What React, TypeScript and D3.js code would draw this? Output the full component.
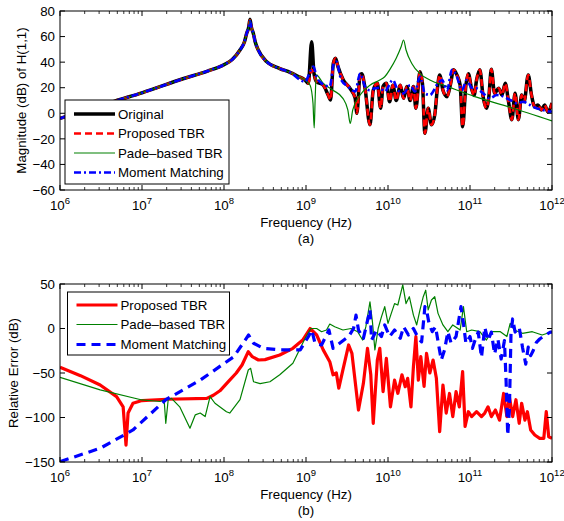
import React from 'react';
import * as d3 from 'd3';

// ---------- Plot (a): magnitude of H(1,1) ----------
const origExp = [6, 6.5, 6.67, 7, 7.5, 7.8, 8, 8.1, 8.195, 8.25, 8.277, 8.3, 8.317, 8.335, 8.357, 8.38, 8.418, 8.52, 8.68, 8.805, 8.9, 8.988, 9.028, 9.069, 9.098, 9.13, 9.21, 9.27, 9.3, 9.333, 9.36, 9.39, 9.455, 9.537, 9.6, 9.62, 9.66, 9.68, 9.72, 9.78, 9.82, 9.87, 9.91, 9.94, 9.98, 10.02, 10.06, 10.1, 10.15, 10.19, 10.23, 10.27, 10.31, 10.34, 10.39, 10.42, 10.45, 10.49, 10.53, 10.57, 10.6, 10.63, 10.67, 10.72, 10.76, 10.8, 10.84, 10.88, 10.91, 10.95, 10.98, 11.02, 11.05, 11.08, 11.12, 11.16, 11.2, 11.23, 11.26, 11.3, 11.35, 11.39, 11.43, 11.47, 11.51, 11.55, 11.59, 11.63, 11.66, 11.71, 11.75, 11.79, 11.83, 11.87, 11.91, 11.95, 12];
const origMag = [-4, 6, 9.5, 16, 27, 33, 38, 42, 49.5, 56, 62.6, 67, 73.5, 67, 62.6, 56, 49.5, 40.4, 35, 32, 29, 26, 23.4, 56, 31, 24.7, 22, 14.3, 10.4, 39, 43, 36.5, 26, 19.5, 11.7, 0, 30, 31, 19.5, -9, 18, 23.4, 4, 21, 23.4, 9, 22, 10, 22, 11.7, 21, 10, 21, 4, 32.5, 23.4, -15.7, 4, -9, -1.3, 18, 30, 18, 13, 22, 34, 30, 22, -10.5, 22, 31, 19, 14, 26, 34, 13, 4, 13, 34.4, 15.6, 19.5, 14.3, 23.4, 9, -5, 15.6, -5, 14.3, 9, 30, 14.3, 5, 6.5, 2.6, 6.5, 1.2, 8];

const propExp = [6, 6.5, 6.67, 7, 7.5, 7.8, 8, 8.1, 8.195, 8.25, 8.277, 8.3, 8.317, 8.335, 8.357, 8.38, 8.418, 8.52, 8.68, 8.805, 8.9, 8.988, 9.028, 9.069, 9.098, 9.13, 9.21, 9.27, 9.3, 9.333, 9.36, 9.39, 9.455, 9.537, 9.6, 9.62, 9.66, 9.68, 9.72, 9.78, 9.82, 9.87, 9.91, 9.94, 9.98, 10.02, 10.06, 10.1, 10.15, 10.19, 10.23, 10.27, 10.31, 10.34, 10.39, 10.42, 10.45, 10.49, 10.53, 10.57, 10.6, 10.63, 10.67, 10.72, 10.76, 10.8, 10.84, 10.88, 10.91, 10.95, 10.98, 11.02, 11.05, 11.08, 11.12, 11.16, 11.2, 11.23, 11.26, 11.3, 11.35, 11.39, 11.43, 11.47, 11.51, 11.55, 11.59, 11.63, 11.66, 11.71, 11.75, 11.79, 11.83, 11.87, 11.91, 11.95, 12];
const propMag = [-4, 6, 9.5, 16, 27, 33, 38, 42, 49.5, 56, 62.6, 67, 73, 67, 62.6, 56, 49.5, 40.4, 35, 32, 29, 26, 23.4, 34, 30, 24.7, 22, 14.3, 10.4, 39, 43, 36.5, 26, 19.5, 11.7, 0, 30, 31, 19.5, -9, 18, 23.4, 4, 21, 23.4, 9, 22, 10, 22, 11.7, 21, 10, 21, 4, 32.5, 23.4, -15.7, 4, -9, -1.3, 18, 30, 18, 13, 22, 34, 30, 22, -10.5, 22, 31, 19, 14, 26, 34, 13, 4, 13, 34.4, 15.6, 19.5, 14.3, 23.4, 9, -5, 15.6, -5, 14.3, 9, 30, 14.3, 5, 6.5, 2.6, 6.5, 1.2, 8];

const padeExp = [6, 6.5, 6.67, 7, 7.5, 7.8, 8, 8.1, 8.195, 8.25, 8.277, 8.3, 8.317, 8.335, 8.357, 8.38, 8.418, 8.52, 8.68, 8.805, 8.9, 8.988, 9.05, 9.085, 9.1, 9.112, 9.125, 9.21, 9.33, 9.45, 9.51, 9.54, 9.57, 9.66, 9.78, 9.9, 9.96, 10.02, 10.1, 10.16, 10.19, 10.22, 10.29, 10.39, 10.51, 10.72, 11.06, 11.5, 12];
const padeMag = [-4, 6, 9.5, 16, 27, 33, 38, 42, 49.5, 56, 62.6, 67, 73, 67, 62.6, 56, 49.5, 40.4, 35, 32, 29, 26, 22, 8, -11.5, 12, 30, 23.4, 18, 11.7, 2.6, -8, 2.6, 14.3, 22, 26, 28.6, 34, 43, 52, 57.3, 49.5, 39, 31, 26, 21, 13, 4.5, -6];

const momExp = [6, 6.5, 6.67, 7, 7.5, 7.8, 8, 8.1, 8.195, 8.25, 8.277, 8.3, 8.317, 8.335, 8.357, 8.38, 8.418, 8.52, 8.68, 8.805, 8.988, 9.06, 9.09, 9.13, 9.19, 9.29, 9.34, 9.37, 9.43, 9.51, 9.6, 9.66, 9.72, 9.78, 9.84, 9.9, 9.96, 10.06, 10.12, 10.19, 10.27, 10.33, 10.39, 10.45, 10.51, 10.61, 10.66, 10.72, 10.78, 10.84, 10.9, 10.96, 11.02, 11.08, 11.16, 11.24, 11.33, 11.41, 11.49, 11.57, 11.65, 11.73, 11.81, 11.89, 11.98, 12];
const momMag = [-4, 6, 9.5, 16, 27, 33, 38, 42, 49.5, 56, 62.6, 67, 72, 67, 62.6, 56, 49.5, 40.4, 35, 32, 24.7, 34, 36.5, 28.6, 23.4, 21, 39, 40.4, 26, 21, 17, 31, 21, 18, 19.5, 20, 17, 26, 18, 15.6, 22, 17, 28.6, 15.6, 14.3, 23.4, 26, 18, 34, 28.6, 18, 26, 20, 19.5, 15.6, 11.7, 14.3, 13, 10.4, 7.8, 9, 6.5, 4, 2.6, 1.2, 2];

// ---------- Plot (b): relative error ----------
const errPropExp = [6, 6.25, 6.49, 6.69, 6.77, 6.805, 6.83, 6.89, 7, 7.3, 7.79, 7.87, 7.95, 8.05, 8.15, 8.22, 8.296, 8.345, 8.42, 8.5, 8.68, 8.84, 8.96, 9.05, 9.13, 9.21, 9.29, 9.33, 9.37, 9.4, 9.45, 9.52, 9.56, 9.64, 9.7, 9.75, 9.79, 9.82, 9.87, 9.9, 9.94, 9.98, 10.03, 10.08, 10.12, 10.17, 10.21, 10.24, 10.28, 10.31, 10.34, 10.37, 10.4, 10.44, 10.47, 10.51, 10.55, 10.59, 10.63, 10.67, 10.71, 10.75, 10.79, 10.83, 10.87, 10.91, 10.94, 10.98, 11.02, 11.08, 11.14, 11.18, 11.22, 11.26, 11.31, 11.36, 11.41, 11.45, 11.48, 11.52, 11.56, 11.6, 11.63, 11.67, 11.7, 11.74, 11.79, 11.85, 11.9, 11.93, 11.96, 12];
const errPropVal = [-43.6, -53, -63.5, -76.6, -88, -131, -95, -84, -81, -79.5, -78.5, -75, -70, -60, -50, -41, -26, -31.7, -35.4, -35, -29.8, -22.3, -13, 0, -7.3, -24, -37.3, -52, -50, -67, -46.6, -18.5, -27.9, -91.6, -61.6, -22.3, -52, -106.5, -35.4, -22.3, -71, -33.5, -88, -58, -72.8, -52, -65.4, -56, -88, -43, -9, -58, -31.7, -65, -28, -50, -35.4, -56, -116, -63.5, -95, -73, -99, -71, -88, -48.5, -110, -93.5, -99, -93.5, -99, -95, -88, -99, -91.6, -103, -73, -99, -76.6, -99, -80, -106.5, -84, -103, -93.5, -114, -119.7, -123.4, -123.4, -93.5, -121.6, -123.4];

const errPadeExp = [6, 6.49, 7, 7.22, 7.27, 7.29, 7.32, 7.36, 7.46, 7.585, 7.65, 7.71, 7.77, 7.83, 7.89, 8.03, 8.07, 8.195, 8.296, 8.325, 8.36, 8.44, 8.56, 8.68, 8.84, 9, 9.06, 9.13, 9.19, 9.25, 9.29, 9.35, 9.45, 9.55, 9.63, 9.69, 9.73, 9.78, 9.81, 9.84, 9.88, 9.92, 9.96, 10, 10.04, 10.08, 10.12, 10.18, 10.22, 10.26, 10.31, 10.35, 10.39, 10.43, 10.46, 10.49, 10.53, 10.57, 10.61, 10.67, 10.73, 10.79, 10.88, 10.92, 10.96, 11.02, 11.12, 11.2, 11.26, 11.37, 11.45, 11.49, 11.54, 11.64, 11.76, 11.88, 12];
const errPadeVal = [-54.8, -69, -80.3, -82, -80, -106.5, -79.5, -78.5, -88, -112, -97, -95, -99, -76.6, -84, -93.5, -95, -80, -46.6, -44.8, -59.8, -62, -59.8, -52, -39, -9, 0, 0, -3.6, -1.7, 5, 2, -1.7, 0, -3.6, -13, 2, 30, 7.7, -24, 0, 13, 24.5, 5.8, 17, 28, 26.4, 49, 28, 35.7, 15, 4, 21, 35.7, 43, 21, 32, 35.7, 17, 4, -3.6, 4, -1.7, 24.5, -3.6, -1.7, -3.6, -13, -3.6, -3.6, -9, 5.8, -1.7, -5.4, -3.6, -7.3, -3.6];

const errMomExp = [6, 6.49, 6.89, 7.29, 7.71, 8.12, 8.3, 8.36, 8.48, 8.68, 8.93, 9.03, 9.07, 9.11, 9.19, 9.28, 9.33, 9.41, 9.52, 9.58, 9.61, 9.64, 9.7, 9.78, 9.8, 9.86, 9.92, 9.96, 10.02, 10.08, 10.15, 10.19, 10.25, 10.31, 10.37, 10.41, 10.45, 10.47, 10.5, 10.54, 10.58, 10.62, 10.65, 10.69, 10.73, 10.77, 10.83, 10.89, 10.92, 10.95, 11, 11.03, 11.06, 11.1, 11.14, 11.18, 11.22, 11.26, 11.3, 11.34, 11.38, 11.42, 11.44, 11.46, 11.48, 11.5, 11.52, 11.55, 11.6, 11.64, 11.68, 11.71, 11.74, 11.77, 11.81, 11.85, 11.91, 11.98, 12];
const errMomVal = [-149.6, -134.6, -114, -80, -58, -31.7, -7.3, -16.6, -22.3, -24, -24, -9, -1.7, -16.6, -18.5, -1.7, -22.3, -16.6, -9, 0, 15, -1.7, -11, 21, -13, -1.7, -9, 4, -9, -1.7, -11, 2, -7.3, 0, -11, -15, 24.5, 21, 5.8, -3.6, 2, -20, -35.4, -24, -3.6, -16.6, -9, 24.5, 5.8, -16.6, -9, -22.3, -13.6, -4, -32.4, 1.3, -13.6, -4, -28.7, -11.8, -34.3, -13.6, -58.6, -120, -92, -6, 10.7, -4, 1.3, -21, -40, -21, -30.5, -25, -15.5, -11.8, -8, -4, -4];

const decades = [6, 7, 8, 9, 10, 11, 12];
const yTicksA = [-60, -40, -20, 0, 20, 40, 60, 80];
const yTicksB = [-150, -100, -50, 0, 50];
const legendA = ['Original', 'Proposed TBR', 'Pade\u2013based TBR', 'Moment Matching'];
const legendB = ['Proposed TBR', 'Pade\u2013based TBR', 'Moment Matching'];

const FONT = "'Liberation Sans', Arial, Helvetica, sans-serif";
const FS = 13.3;
const L = 60, R = 552;

type Style = { stroke: string; width: number; dash?: string };
const sOrig: Style = { stroke: '#000000', width: 3.5 };
const sPropA: Style = { stroke: '#ff0000', width: 2.6, dash: '7,4' };
const sPade: Style = { stroke: '#008000', width: 1.2 };
const sMomA: Style = { stroke: '#0000ff', width: 2.6, dash: '7,3,2,3' };
const sPropB: Style = { stroke: '#ff0000', width: 3.2 };
const sMomB: Style = { stroke: '#0000ff', width: 3.2, dash: '9,6' };

const fmt = (v: number) => (v < 0 ? '\u2212' + Math.abs(v) : String(v));

function Axes({ top, bot, y, yTicks, yLabel, labelX, xLabelY, sub, clipId, children }: any) {
  const x = d3.scaleLog().domain([1e6, 1e12]).range([L, R]);
  const minors: number[] = [];
  for (let d = 6; d < 12; d++) for (let k = 2; k <= 9; k++) minors.push(k * Math.pow(10, d));
  return (
    <g>
      <defs>
        <clipPath id={clipId}><rect x={L} y={top} width={R - L} height={bot - top} /></clipPath>
      </defs>
      <g clipPath={`url(#${clipId})`}>{children}</g>
      <rect x={L} y={top} width={R - L} height={bot - top} fill="none" stroke="#000" strokeWidth={1} />
      {decades.map((d) => {
        const px = x(Math.pow(10, d));
        return (
          <g key={'d' + d}>
            <line x1={px} x2={px} y1={bot} y2={bot - 5} stroke="#000" />
            <line x1={px} x2={px} y1={top} y2={top + 5} stroke="#000" />
            <text x={px} y={bot + 20} fontFamily={FONT} fontSize={FS} textAnchor="middle">
              10<tspan dy={-6} fontSize={9.5}>{d}</tspan>
            </text>
          </g>
        );
      })}
      {minors.map((m, i) => {
        const px = x(m);
        return (
          <g key={'m' + i}>
            <line x1={px} x2={px} y1={bot} y2={bot - 3} stroke="#000" strokeWidth={0.8} />
            <line x1={px} x2={px} y1={top} y2={top + 3} stroke="#000" strokeWidth={0.8} />
          </g>
        );
      })}
      {yTicks.map((t: number) => {
        const py = y(t);
        return (
          <g key={'y' + t}>
            <line x1={L} x2={L + 5} y1={py} y2={py} stroke="#000" />
            <line x1={R} x2={R - 5} y1={py} y2={py} stroke="#000" />
            <text x={L - 5} y={py} dy="0.35em" fontFamily={FONT} fontSize={FS} textAnchor="end">{fmt(t)}</text>
          </g>
        );
      })}
      <text transform={`translate(${labelX},${(top + bot) / 2}) rotate(-90)`} fontFamily={FONT} fontSize={FS} textAnchor="middle" dy="0.35em">{yLabel}</text>
      <text x={(L + R) / 2} y={xLabelY} fontFamily={FONT} fontSize={FS} textAnchor="middle">Frequency (Hz)</text>
      <text x={(L + R) / 2} y={xLabelY + 16} fontFamily={FONT} fontSize={FS} textAnchor="middle">{sub}</text>
    </g>
  );
}

function Path({ d, s }: { d: string | null; s: Style }) {
  return <path d={d || ''} fill="none" stroke={s.stroke} strokeWidth={s.width} strokeDasharray={s.dash} strokeLinejoin="round" />;
}

function Legend({ x0, y0, w, h, items, styles, rowY }: any) {
  return (
    <g>
      <rect x={x0} y={y0} width={w} height={h} fill="#fff" stroke="#000" strokeWidth={1} />
      {items.map((t: string, i: number) => (
        <g key={t}>
          <line x1={x0 + 9} x2={x0 + 50} y1={rowY[i]} y2={rowY[i]} stroke={styles[i].stroke} strokeWidth={styles[i].width} strokeDasharray={styles[i].dash} />
          <text x={x0 + 53} y={rowY[i]} dy="0.35em" fontFamily={FONT} fontSize={FS}>{t}</text>
        </g>
      ))}
    </g>
  );
}

export default function App() {
  const x = d3.scaleLog().domain([1e6, 1e12]).range([L, R]);
  const yA = d3.scaleLinear().domain([-60, 80]).range([190, 11]);
  const yB = d3.scaleLinear().domain([-150, 50]).range([462, 284]);
  const mk = (exps: number[], vals: number[], y: any, curve: any) =>
    d3.line<number>().x((_, i) => x(Math.pow(10, exps[i]))).y((v) => y(v)).curve(curve)(vals);

  return (
    <svg width={564} height={521} style={{ position: 'absolute', left: 0, top: 0, background: '#fff' }}>
      <rect width={564} height={521} fill="#fff" />
      <Axes top={11} bot={190} y={yA} yTicks={yTicksA} yLabel="Magnitude (dB) of H(1,1)" labelX={21} xLabelY={227} sub="(a)" clipId="clipA">
        <Path d={mk(origExp, origMag, yA, d3.curveMonotoneX)} s={sOrig} />
        <Path d={mk(propExp, propMag, yA, d3.curveMonotoneX)} s={sPropA} />
        <Path d={mk(padeExp, padeMag, yA, d3.curveMonotoneX)} s={sPade} />
        <Path d={mk(momExp, momMag, yA, d3.curveMonotoneX)} s={sMomA} />
      </Axes>
      <Legend x0={65} y0={100} w={164} h={84} items={legendA} styles={[sOrig, sPropA, sPade, sMomA]} rowY={[114, 133.5, 153, 172.5]} />

      <Axes top={284} bot={462} y={yB} yTicks={yTicksB} yLabel="Relative Error (dB)" labelX={13} xLabelY={499} sub="(b)" clipId="clipB">
        <Path d={mk(errPropExp, errPropVal, yB, d3.curveLinear)} s={sPropB} />
        <Path d={mk(errPadeExp, errPadeVal, yB, d3.curveLinear)} s={sPade} />
        <Path d={mk(errMomExp, errMomVal, yB, d3.curveLinear)} s={sMomB} />
      </Axes>
      <Legend x0={67.5} y0={292} w={162} h={63} items={legendB} styles={[sPropB, sPade, sMomB]} rowY={[305, 324.5, 344.5]} />
    </svg>
  );
}
